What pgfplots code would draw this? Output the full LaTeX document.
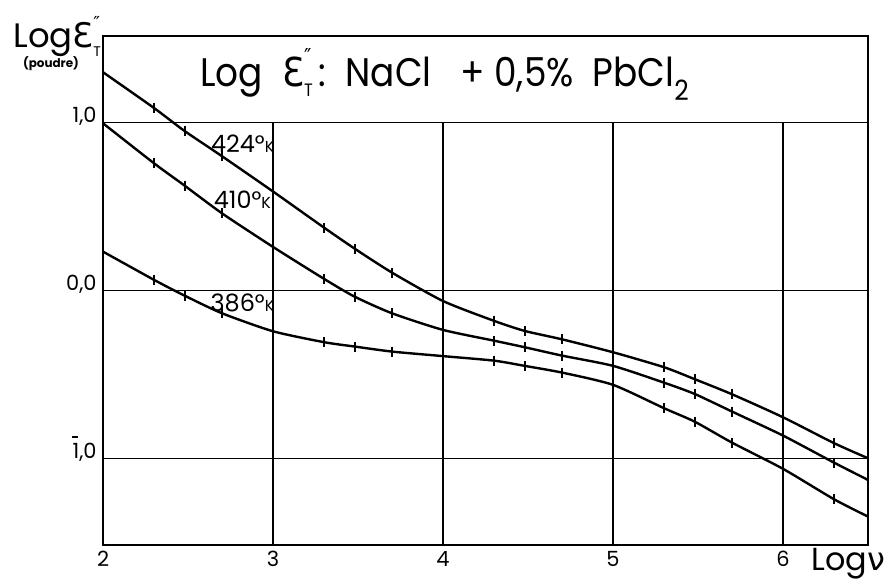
\documentclass[border=0pt]{standalone}
\usepackage{fontspec}
\setmainfont{Poppins}
\newfontfamily\dejavu{DejaVu Sans}
\usepackage{pgfplots}
\pgfplotsset{compat=1.18}
\newcommand\barone{\leavevmode\rlap{\kern-0.05em\raisebox{1.0em}{\rule{0.3em}{0.6pt}}}1}

\pgfplotstableread{
x y
2.00 1.300
2.30 1.087
2.48 0.950
2.70 0.800
3.00 0.590
3.30 0.375
3.48 0.250
3.70 0.107
4.00 -0.062
4.30 -0.180
4.48 -0.240
4.70 -0.290
5.00 -0.367
5.30 -0.456
5.48 -0.527
5.70 -0.617
6.00 -0.754
6.30 -0.908
6.50 -0.998
}\tabA
\pgfplotstableread{
x y
2.00 0.996
2.30 0.758
2.48 0.625
2.70 0.460
3.00 0.260
3.30 0.070
3.48 -0.036
3.70 -0.135
4.00 -0.234
4.30 -0.298
4.48 -0.337
4.70 -0.387
5.00 -0.448
5.30 -0.548
5.48 -0.615
5.70 -0.720
6.00 -0.863
6.30 -1.024
6.50 -1.127
}\tabB
\pgfplotstableread{
x y
2.00 0.232
2.30 0.064
2.48 -0.030
2.70 -0.135
3.00 -0.242
3.30 -0.307
3.48 -0.333
3.70 -0.363
4.00 -0.390
4.30 -0.417
4.48 -0.448
4.70 -0.488
5.00 -0.561
5.30 -0.700
5.48 -0.780
5.70 -0.905
6.00 -1.061
6.30 -1.242
6.50 -1.345
}\tabC

\begin{document}
\begin{tikzpicture}
\begin{axis}[
  scale only axis, width=382.5bp, height=254.5bp,
  xmin=2, xmax=6.5, ymin=-1.514, ymax=1.516,
  axis line style={line width=1.4bp},
  xtick={2,3,4,5,6}, ytick={-1,0,1},
  yticklabels={{\barone,0},{0,0},{1,0}},
  major tick length=0,
  ymajorgrids, grid style={line width=0.7bp, black},
  /pgf/number format/assume math mode=true,
  xticklabel style={anchor=north, inner sep=0pt, yshift=-3bp, font=\fontsize{10.5}{11}\selectfont},
  yticklabel style={anchor=base east, inner sep=0pt, xshift=-3bp, font=\fontsize{10.5}{11}\selectfont},
  clip=false,
]
\pgfplotsinvokeforeach{3,4,5,6}{
  \draw[line width=0.7bp] (axis cs:#1,-1.514) -- (axis cs:#1,1);
}
\addplot[black, line width=1.2bp, smooth, tension=0.4, mark=|, mark size=2.5bp, mark options={line width=1bp, solid}] table[x=x,y=y] {\tabA};
\addplot[black, line width=1.2bp, smooth, tension=0.4, mark=|, mark size=2.5bp, mark options={line width=1bp, solid}] table[x=x,y=y] {\tabB};
\addplot[black, line width=1.2bp, smooth, tension=0.4, mark=|, mark size=2.5bp, mark options={line width=1bp, solid}] table[x=x,y=y] {\tabC};

\node[anchor=base east, inner sep=0pt, font=\fontsize{12}{13}\selectfont] at (axis cs:3.01,0.82) {424°{\fontsize{8}{9}\selectfont K}};
\node[anchor=base east, inner sep=0pt, font=\fontsize{12}{13}\selectfont] at (axis cs:2.99,0.49) {410°{\fontsize{8}{9}\selectfont K}};
\node[anchor=base east, inner sep=0pt, font=\fontsize{12}{13}\selectfont] at (axis cs:3.01,-0.127) {386°{\fontsize{8}{9}\selectfont K}};

\node[anchor=base west, inner sep=0pt, font=\fontsize{20}{24}\selectfont] at (axis cs:2.57,1.214)
  {\scalebox{0.9}[1]{Log\ \ {\dejavu Ɛ}\rlap{\raisebox{0.55em}{\fontsize{11}{12}\selectfont\dejavu ″}}\raisebox{-0.25em}{\fontsize{9}{10}\selectfont T}\,:\ \ NaCl\ \ \ +\ 0,5\%\ \ PbCl\raisebox{-0.35em}{\fontsize{14}{14}\selectfont 2}}};

\node[anchor=base west, inner sep=0pt, font=\fontsize{17}{18}\selectfont] at (axis cs:1.471,1.445)
  {Log{\dejavu Ɛ}\rlap{\raisebox{0.55em}{\fontsize{9}{10}\selectfont\dejavu ″}}\raisebox{-0.25em}{\fontsize{7}{8}\selectfont T}};
\node[anchor=base, inner sep=0pt, font=\fontsize{6}{7}\selectfont\bfseries] at (axis cs:1.694,1.326) {(poudre)};

\node[anchor=base west, inner sep=0pt, font=\fontsize{16}{18}\selectfont] at (axis cs:6.165,-1.665) {Log{\dejavu ν}};

\coordinate (bl) at (axis cs:1.394,-1.734);
\coordinate (tr) at (axis cs:6.653,1.730);
\end{axis}
\pgfresetboundingbox
\useasboundingbox (bl) rectangle (tr);
\end{tikzpicture}
\end{document}
